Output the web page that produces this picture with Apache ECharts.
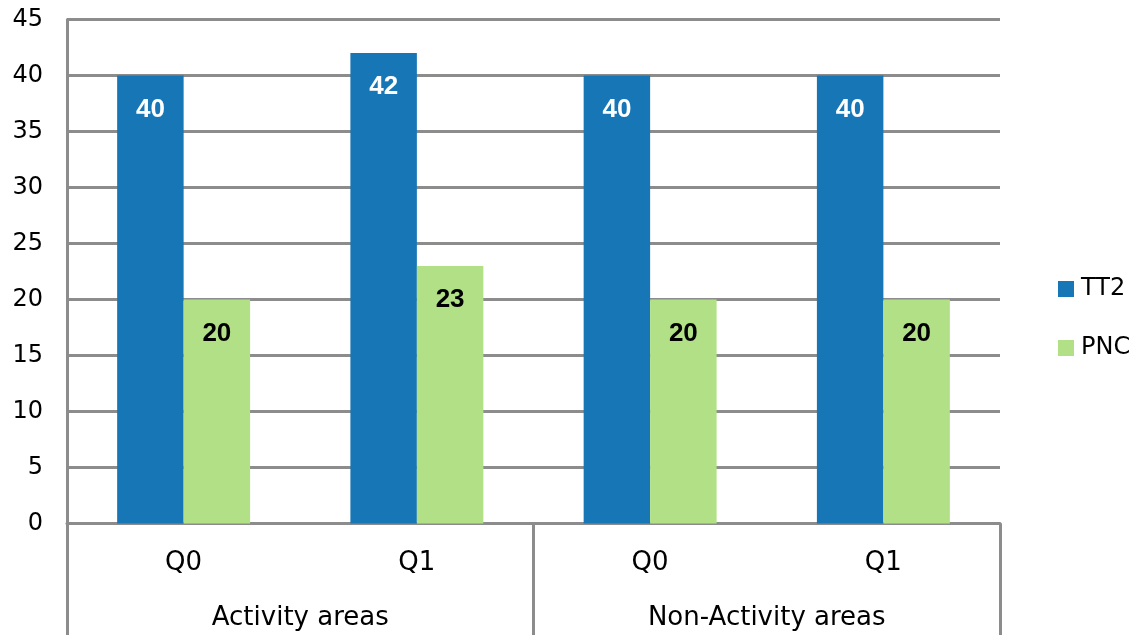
<!DOCTYPE html>
<html>
<head>
<meta charset="utf-8">
<script src="https://cdn.jsdelivr.net/npm/echarts@6/dist/echarts.min.js"></script>
<style>html,body{margin:0;padding:0;background:#fff}#c{width:1141px;height:635px}</style>
</head>
<body>
<div id="c"></div>
<script>
const quarters = ['Q0', 'Q1', 'Q0', 'Q1'];
const groups = ['Activity areas', 'Non-Activity areas'];
const tt2 = [40, 42, 40, 40];
const pnc = [20, 23, 20, 20];
const yTicks = { min: 0, max: 45, interval: 5 };

const gray = '#8c8c8c';
const axisFont = '"DejaVu Sans", sans-serif';
const chart = echarts.init(document.getElementById('c'));
chart.setOption({
  animation: false,
  grid: { left: 67, right: 141, top: 19.5, bottom: 111.5, containLabel: false },
  legend: {
    orient: 'vertical', left: 1058, top: 277, padding: 0, itemWidth: 16, itemHeight: 16, itemGap: 35,
    icon: 'rect',
    textStyle: { fontFamily: axisFont, fontSize: 24, lineHeight: 24, color: '#000', padding: [0, 0, 0, 2] },
    data: ['TT2', 'PNC']
  },
  xAxis: [
    {
      type: 'category', data: quarters, position: 'bottom',
      axisLine: { show: true, lineStyle: { color: gray, width: 3 } },
      axisTick: { show: false },
      axisLabel: { margin: 27, fontFamily: axisFont, fontSize: 26, color: '#000' }
    },
    {
      type: 'category', data: groups, position: 'bottom',
      axisLine: { show: false },
      axisTick: { show: true, length: 112, interval: 0, lineStyle: { color: gray, width: 3 } },
      axisLabel: { margin: 82, fontFamily: axisFont, fontSize: 26, color: '#000' }
    }
  ],
  yAxis: {
    type: 'value', min: yTicks.min, max: yTicks.max, interval: yTicks.interval,
    axisLine: { show: true, lineStyle: { color: gray, width: 3 } },
    axisTick: { show: false },
    splitLine: { show: true, lineStyle: { color: gray, width: 3 } },
    axisLabel: { margin: 24, fontFamily: axisFont, fontSize: 24, color: '#000' }
  },
  series: [
    {
      name: 'TT2', type: 'bar', data: tt2, xAxisIndex: 0, barGap: '0%', barCategoryGap: '43%',
      itemStyle: { color: '#1776b6' },
      label: { show: true, position: 'insideTop', distance: 21, color: '#fff', fontWeight: 'bold',
               fontFamily: '"Liberation Sans", Arial, sans-serif', fontSize: 26 }
    },
    {
      name: 'PNC', type: 'bar', data: pnc, xAxisIndex: 0,
      itemStyle: { color: '#b1e086' },
      label: { show: true, position: 'insideTop', distance: 21, color: '#000', fontWeight: 'bold',
               fontFamily: '"Liberation Sans", Arial, sans-serif', fontSize: 26 }
    }
  ]
});
</script>
</body>
</html>
